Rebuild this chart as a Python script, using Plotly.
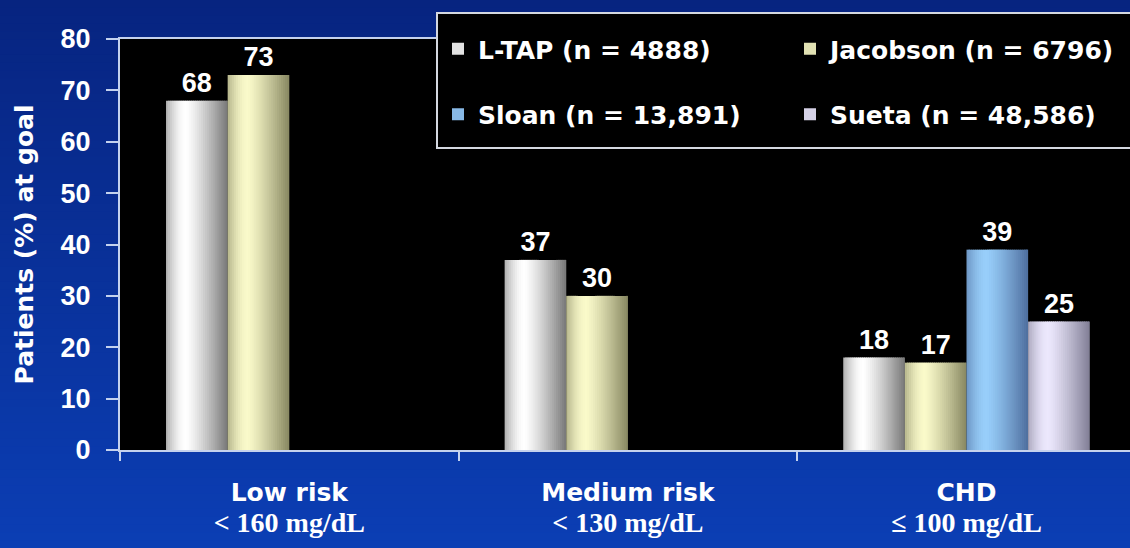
import math
import plotly.graph_objects as go

# ---- data -----------------------------------------------------------------
categories = ["Low risk", "Medium risk", "CHD"]
category_subtitles = ["&lt; 160 mg/dL", "&lt; 130 mg/dL", "≤ 100 mg/dL"]
series_names = ["L-TAP (n = 4888)", "Jacobson (n = 6796)", "Sloan (n = 13,891)", "Sueta (n = 48,586)"]
ltap = [68, 37, 18]
jacobson = [73, 30, 17]
sloan = [None, None, 39]
sueta = [None, None, 25]
series_values = [ltap, jacobson, sloan, sueta]
y_ticks = [0, 10, 20, 30, 40, 50, 60, 70, 80]

# ---- styling --------------------------------------------------------------
W, H = 1130, 548
M_L, M_R, M_T, M_B = 120, 0, 39, 98
PW, PH = W - M_L - M_R, H - M_T - M_B

SANS = "Liberation Sans"
WIDE = "DejaVu Sans"
AXIS_COL = "#c4d2ee"

category_ticktext = [
    "<span style='font-size:25px'><b>%s</b></span><br>"
    "<span style='font-family:Liberation Serif;font-size:28px'><b>%s</b></span>" % (c, s)
    for c, s in zip(categories, category_subtitles)
]

# (dark edge, highlight) rgb for the cylinder shading of each series
series_shades = [
    ((45, 45, 45), (255, 255, 255)),
    ((72, 72, 40), (250, 250, 202)),
    ((38, 58, 108), (152, 206, 250)),
    ((70, 68, 92), (236, 232, 253)),
]
legend_of = ["legend", "legend2", "legend", "legend2"]

BAR_W = 0.182           # width of one bar, in category units
GROUP_OFF = -2 * BAR_W  # left edge of the first bar relative to the category centre
N_STRIPES = 30


def brightness(t):
    """Horizontal light profile of a shaded cylinder (t = 0 left edge, 1 right edge)."""
    peak = 0.33
    if t < peak:
        return 0.62 + 0.38 * math.sin(math.pi / 2 * t / peak)
    return 1.0 - 0.65 * ((t - peak) / (1 - peak)) ** 1.2


def mix(c0, c1, b):
    return "rgb(%d,%d,%d)" % tuple(round(a + (c - a) * b) for a, c in zip(c0, c1))


fig = go.Figure()

x_range = [-0.5, -0.5 + PW / 338.6]

for i, (name, vals) in enumerate(zip(series_names, series_values)):
    dark, light = series_shades[i]
    left = GROUP_OFF + i * BAR_W
    step = BAR_W / N_STRIPES
    for j in range(N_STRIPES):
        t = (j + 0.5) / N_STRIPES
        off = left + j * step
        width = min(step * 1.7, left + BAR_W - off)
        fig.add_trace(go.Bar(
            x=categories, y=vals,
            offset=off, width=width,
            marker=dict(color=mix(dark, light, brightness(t)), line=dict(width=0)),
            name=name, legendgroup=name, legend=legend_of[i],
            showlegend=(j == N_STRIPES // 2),
            hoverinfo="skip",
        ))
    # value labels above each bar
    fig.add_trace(go.Bar(
        x=categories, y=vals,
        offset=left, width=BAR_W,
        marker=dict(color="rgba(0,0,0,0)", line=dict(width=0)),
        text=vals, texttemplate="%{y}", textposition="outside",
        textfont=dict(family=SANS, size=27, color="white", weight="bold"),
        constraintext="none", cliponaxis=False,
        showlegend=False, hoverinfo="skip",
    ))

# ---- background: vertical blue gradient, black plot area -----------------
shapes = []
n_bands = 70
y_lo, y_hi = -M_B / PH, (PH + M_T) / PH
top_col, bot_col = (7, 36, 128), (11, 62, 180)
for k in range(n_bands):
    f = k / (n_bands - 1)
    y0 = y_hi - (y_hi - y_lo) * k / n_bands
    y1 = y_hi - (y_hi - y_lo) * (k + 1) / n_bands
    shapes.append(dict(type="rect", xref="paper", yref="paper",
                       x0=-M_L / PW - 0.01, x1=1.01, y0=y1 - 0.002, y1=y0,
                       fillcolor=mix(top_col, bot_col, f), line=dict(width=0), layer="below"))
shapes.append(dict(type="rect", xref="paper", yref="paper", x0=0, x1=1, y0=0, y1=1,
                   fillcolor="black", line=dict(width=0), layer="below"))
# legend box
shapes.append(dict(type="rect", xref="paper", yref="paper",
                   x0=(437 - M_L) / PW, x1=1.02,
                   y0=(M_T + PH - 148) / PH, y1=(M_T + PH - 13) / PH,
                   fillcolor="black", line=dict(color="#d4d8e0", width=2), layer="above"))

legend_common = dict(
    orientation="v", bgcolor="rgba(0,0,0,0)", borderwidth=0,
    font=dict(family=WIDE, size=25, color="white", weight="bold"),
    tracegroupgap=30, xanchor="left", yanchor="top",
    y=(M_T + PH - 26) / PH, itemclick=False, itemdoubleclick=False,
)

fig.update_layout(
    width=W, height=H,
    margin=dict(l=M_L, r=M_R, t=M_T, b=M_B, autoexpand=False),
    barmode="overlay",
    paper_bgcolor="#0a33a8",
    plot_bgcolor="black",
    shapes=shapes,
    legend=dict(x=(438 - M_L) / PW, **legend_common),
    legend2=dict(x=(790 - M_L) / PW, **legend_common),
    xaxis=dict(
        type="category", categoryorder="array", categoryarray=categories,
        tickmode="array", tickvals=categories, ticktext=category_ticktext,
        tickson="boundaries", ticks="outside", ticklen=9, tickwidth=2, tickcolor=AXIS_COL,
        ticklabelstandoff=20,
        tickfont=dict(family=WIDE, size=24, color="white"),
        showline=True, linecolor=AXIS_COL, linewidth=2, mirror=True,
        showgrid=False, zeroline=False, range=x_range,
    ),
    yaxis=dict(
        range=[0, 80], tickmode="array", tickvals=y_ticks,
        ticks="outside", ticklen=12, tickwidth=2, tickcolor=AXIS_COL,
        ticklabelstandoff=10,
        tickfont=dict(family=SANS, size=27, color="white", weight="bold"),
        showline=True, linecolor=AXIS_COL, linewidth=2, mirror=True,
        showgrid=False, zeroline=False,
        title=dict(text="Patients (%) at goal", standoff=20,
                   font=dict(family=WIDE, size=25, color="white", weight="bold")),
    ),
)

fig.write_html("out.html")
